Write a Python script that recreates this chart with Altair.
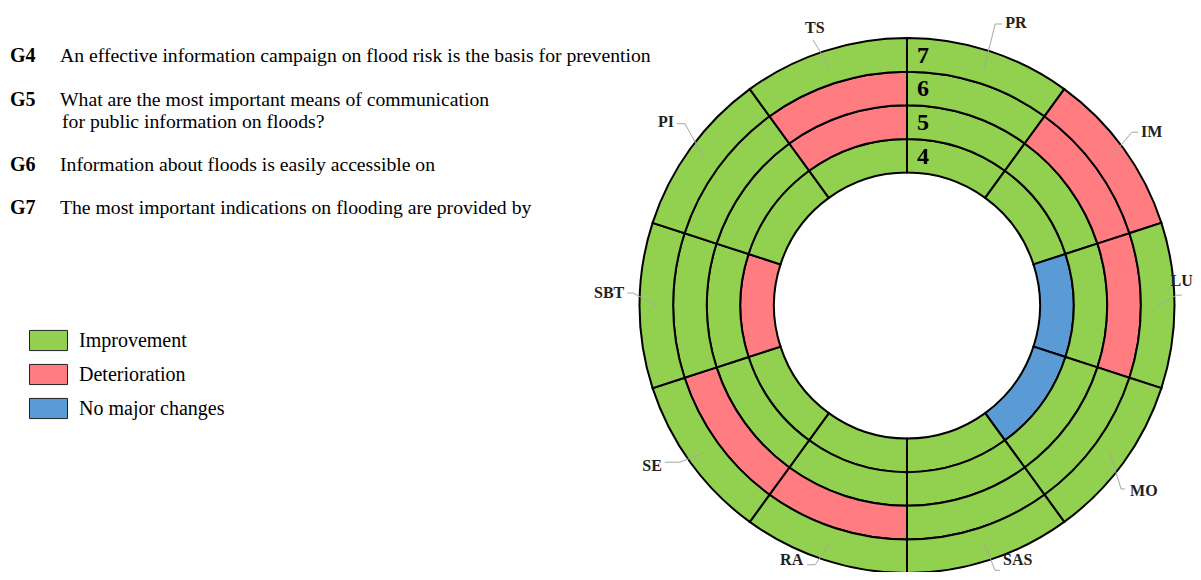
import math
import altair as alt
import pandas as pd

# ---------------- data ----------------
sectors = ["PR", "IM", "LU", "MO", "SAS", "RA", "SE", "SBT", "PI", "TS"]
rings = ["G4", "G5", "G6", "G7"]
ring_numbers = ["4", "5", "6", "7"]
statuses = ["Improvement", "Deterioration", "No major changes"]
status_colors = ["#92D050", "#FF7C80", "#5B9BD5"]

I, D, N = statuses
g4 = [I, I, N, N, I, I, I, D, I, I]
g5 = [I, I, I, I, I, I, I, I, I, D]
g6 = [I, D, D, I, I, D, D, I, I, D]
g7 = [I, D, I, I, I, I, I, I, I, I]
ring_status = [g4, g5, g6, g7]

question_codes = ["G4", "G5", "G6", "G7"]
question_lines = [
    ["An effective information campaign on flood risk is the basis for prevention"],
    ["What are the most important means of communication",
     "for public information on floods?"],
    ["Information about floods is easily accessible on"],
    ["The most important indications on flooding are provided by"],
]

# ---------------- layout ----------------
W, H = 1185, 564
CX, CY = 899, 297.5
R_IN, R_OUT = 133, 267.5
RING_W = (R_OUT - R_IN) / 4
FONT = "Liberation Serif"

xs = alt.Scale(domain=[-CX, W - CX], range=[0, W])
ys = alt.Scale(domain=[-CY, H - CY], range=[0, H])

# leader elbows: (elbow angle deg, elbow radius, tail length, text align, text dx, text dy)
leader = {
    "PR": (17.4, 295, 7, "left", 3, -1),
    "IM": (52.4, 284, 6, "left", 3, 0),
    "LU": (87.8, 270, 5, "right", 11, -14),
    "MO": (130.6, 282, 4, "left", 5, 2),
    "SAS": (161.6, 279, 5, "left", 3, -10),
    "RA": (199.5, 275, -8, "right", -4, -5),
    "SE": (235.4, 276, -15, "right", -3, 4),
    "SBT": (272.6, 274, -6, "right", -3, 0),
    "PI": (309.3, 287, -8, "right", -3, -2),
    "TS": (340.5, 282, 0, "center", 2, -12),
}


def polar(angle_deg, r):
    a = math.radians(angle_deg)
    return r * math.sin(a), -r * math.cos(a)


cells = []
for i, s in enumerate(sectors):
    for j, g in enumerate(rings):
        cells.append({"sector": s, "ring": g, "status": ring_status[j][i],
                      "t0": i, "t1": i + 1, "r0": j, "r1": j + 1})
cells = pd.DataFrame(cells)

lines = []
labels = []
for i, s in enumerate(sectors):
    mid = (i + 0.5) * 36
    ea, er, tail, align, tdx, tdy = leader[s]
    x0, y0 = polar(mid, (R_OUT + R_OUT - RING_W) / 2)
    x1, y1 = polar(ea, er)
    x2, y2 = x1 + tail, y1
    lines += [{"label": s, "k": 0, "x": x0, "y": y0},
              {"label": s, "k": 1, "x": x1, "y": y1},
              {"label": s, "k": 2, "x": x2, "y": y2}]
    labels.append({"label": s, "x": x2 + tdx, "y": y2 + tdy, "align": align})
lines = pd.DataFrame(lines)
labels = pd.DataFrame(labels)

ringnum = pd.DataFrame({"num": ring_numbers,
                        "y": [-(R_IN + (j + 0.5) * RING_W) for j in range(4)],
                        "x": [0] * 4})

arcs = alt.Chart(cells).mark_arc(stroke="black", strokeWidth=2).encode(
    theta=alt.Theta("t0:Q", scale=alt.Scale(domain=[0, 10], range=[0, 2 * math.pi])),
    theta2="t1:Q",
    radius=alt.Radius("r1:Q", scale=alt.Scale(type="linear", zero=False,
                                               domain=[0, 4], range=[R_IN, R_OUT])),
    radius2="r0:Q",
    x=alt.XDatum(0, type="quantitative", scale=xs, axis=None),
    y=alt.YDatum(0, type="quantitative", scale=ys, axis=None),
    color=alt.Color("status:N", title=None,
                    scale=alt.Scale(domain=statuses, range=status_colors),
                    legend=alt.Legend(orient="none", legendX=21, legendY=313,
                                      symbolType="M-1,-0.53H1V0.53H-1Z",
                                      symbolSize=1444, symbolStrokeColor="#222222",
                                      symbolStrokeWidth=1, symbolOpacity=1,
                                      labelFont=FONT, labelFontSize=20,
                                      labelColor="black", labelOffset=11,
                                      rowPadding=2, padding=0)),
)

leaders = alt.Chart(lines).mark_line(color="#a6a6a6", strokeWidth=1).encode(
    x=alt.X("x:Q", scale=xs, axis=None),
    y=alt.Y("y:Q", scale=ys, axis=None),
    detail="label:N",
    order="k:Q",
)

label_layers = []
for al in ["left", "right", "center"]:
    label_layers.append(
        alt.Chart(labels[labels["align"] == al]).mark_text(
            align=al, baseline="middle", font=FONT, fontSize=16, fontWeight="bold",
            color="#222222").encode(
            x=alt.X("x:Q", scale=xs, axis=None),
            y=alt.Y("y:Q", scale=ys, axis=None),
            text="label:N")
    )

nums = alt.Chart(ringnum).mark_text(
    align="center", baseline="middle", dx=16, dy=1, font=FONT, fontSize=24,
    fontWeight="bold", color="black").encode(
    x=alt.X("x:Q", scale=xs, axis=None),
    y=alt.Y("y:Q", scale=ys, axis=None),
    text="num:N")

# left question block
q_layers = []
q_y = [48, 92, 157, 200]
for k, code in enumerate(question_codes):
    q_layers.append(
        alt.Chart(pd.DataFrame({"t": [code]})).mark_text(
            align="left", baseline="middle", font=FONT, fontSize=20,
            fontWeight="bold", color="black").encode(
            text="t:N", x=alt.value(2), y=alt.value(q_y[k]))
    )
    for m, line in enumerate(question_lines[k]):
        q_layers.append(
            alt.Chart(pd.DataFrame({"t": [line]})).mark_text(
                align="left", baseline="middle", font=FONT, fontSize=19.7,
                color="black").encode(
                text="t:N", x=alt.value(52 + 2 * m), y=alt.value(q_y[k] + 22 * m))
        )

chart = alt.layer(arcs, leaders, *label_layers, nums, *q_layers).properties(
    width=W, height=H,
    autosize=alt.AutoSizeParams(type="none"),
    padding=0,
).configure_view(stroke=None)

chart.save("out.html", embed_options={"renderer": "svg", "actions": False})
